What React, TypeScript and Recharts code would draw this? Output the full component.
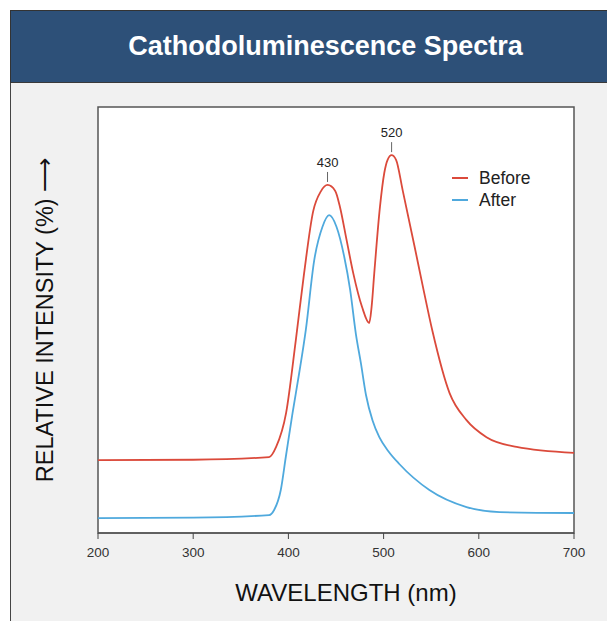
import React from "react";
import {
  LineChart,
  Line,
  XAxis,
  YAxis,
  CartesianGrid,
  ReferenceArea,
  ReferenceDot,
  Legend,
} from "recharts";

// wavelength (nm) / relative intensity (%)
const beforeWavelength = [
  200, 300, 379.7, 387.1, 397.6, 407.8, 416.5, 426.0, 434.1, 441.1, 449.2,
  454.1, 461.1, 468.1, 477.3, 484.9, 487.4, 490.2, 496.2, 500.7, 504.2, 508.4,
  513.1, 520.0, 532.3, 541.1, 551.3, 569.2, 587.1, 608.1, 639.7, 700,
];
const beforeIntensity = [
  17.1, 17.2, 17.8, 20.2, 28.2, 45.3, 61.0, 75.5, 80.2, 81.7, 80.3, 76.6,
  68.8, 61.0, 53.1, 49.3, 53.1, 61.0, 76.6, 84.5, 87.6, 88.7, 87.6, 80.5,
  67.5, 58.0, 47.4, 32.9, 26.5, 22.5, 20.2, 18.8,
];

const afterWavelength = [
  200, 300, 379.7, 385.0, 392.0, 397.3, 404.3, 411.3, 418.3, 427.1, 435.8,
  442.8, 450.5, 458.6, 464.9, 470.9, 476.2, 481.5, 488.4, 495.5, 505.0, 516.5,
  548.1, 587.1, 621.8, 700,
];
const afterIntensity = [
  3.5, 3.6, 4.2, 5.4, 10.1, 17.9, 28.1, 37.5, 47.7, 64.0, 71.9, 74.6, 71.9,
  64.9, 57.0, 46.7, 39.8, 32.4, 26.4, 22.5, 19.2, 16.2, 10.1, 6.1, 4.9, 4.7,
];

const xTicks = [200, 300, 400, 500, 600, 700];
const peakWavelength = [441.1, 508.4];
const peakLabels = ["430", "520"];

const RED = "#db4a3b";
const BLUE = "#4fa9dd";
const FONT = "'Liberation Sans', Arial, Helvetica, sans-serif";

const beforeData = beforeWavelength.map((w, i) => ({ w, v: beforeIntensity[i] }));
const afterData = afterWavelength.map((w, i) => ({ w, v: afterIntensity[i] }));

const peaks = peakWavelength.map((w, i) => ({
  w,
  v: beforeIntensity[beforeWavelength.indexOf(w)],
  label: peakLabels[i],
}));

const legendItems = [
  { name: "Before", color: RED },
  { name: "After", color: BLUE },
];

const renderLegend = () => (
  <div style={{ fontFamily: FONT, fontSize: 17.5, color: "#222" }}>
    {legendItems.map((it) => (
      <div
        key={it.name}
        style={{ display: "flex", alignItems: "center", height: 22 }}
      >
        <span
          style={{
            display: "inline-block",
            width: 16,
            height: 2,
            background: it.color,
            marginRight: 11,
          }}
        />
        {it.name}
      </div>
    ))}
  </div>
);

const YLabel = (props: any) => {
  const vb = props.viewBox;
  const cx = 45;
  const cy = vb.y + vb.height / 2;
  return (
    <text
      x={cx}
      y={cy}
      transform={`rotate(-90, ${cx}, ${cy})`}
      textAnchor="middle"
      dominantBaseline="central"
      fontFamily={FONT}
      fontSize={23.5}
      fill="#111"
    >
      RELATIVE INTENSITY (%) ⟶
    </text>
  );
};

const XLabel = (props: any) => {
  const vb = props.viewBox;
  return (
    <text
      x={vb.x + vb.width / 2 + 10}
      y={601}
      textAnchor="middle"
      fontFamily={FONT}
      fontSize={24}
      fill="#111"
    >
      WAVELENGTH (nm)
    </text>
  );
};

const PeakMark = (props: any) => {
  const { cx, cy, payload } = props;
  return (
    <g>
      <line x1={cx} y1={cy - 3} x2={cx} y2={cy - 13} stroke="#666" strokeWidth={1} />
      <text
        x={cx}
        y={cy - 18}
        textAnchor="middle"
        fontFamily={FONT}
        fontSize={13}
        fill="#222"
      >
        {payload}
      </text>
    </g>
  );
};

export default function App() {
  return (
    <div style={{ position: "relative", width: 607, height: 621, background: "#fff" }}>
      <style>{"body{margin:0}"}</style>
      <div
        style={{
          position: "absolute",
          left: 10,
          top: 83,
          width: 597,
          height: 538,
          background: "#f1f1f1",
          borderLeft: "1.5px solid #444",
          boxSizing: "border-box",
        }}
      />
      <div
        style={{
          position: "absolute",
          left: 10,
          top: 10,
          width: 597,
          height: 73,
          background: "#2d5078",
          borderTop: "1.5px solid #333",
          borderLeft: "1.5px solid #333",
          borderBottom: "1px solid #3a3a3a",
          boxSizing: "border-box",
          color: "#fff",
          fontFamily: FONT,
          fontWeight: "bold",
          fontSize: 27,
          display: "flex",
          alignItems: "center",
          justifyContent: "center",
          paddingLeft: 33,
          paddingBottom: 1,
        }}
      >
        Cathodoluminescence Spectra
      </div>
      <div style={{ position: "absolute", left: 0, top: 0 }}>
        <LineChart
          width={607}
          height={621}
          margin={{ top: 107, right: 33, bottom: 28, left: 10 }}
        >
          <CartesianGrid fill="#fff" horizontal={false} vertical={false} />
          <XAxis
            type="number"
            dataKey="w"
            domain={[200, 700]}
            ticks={xTicks}
            height={60}
            tickSize={6}
            tickMargin={8}
            stroke="#444"
            tick={{ fill: "#333", fontSize: 13.5, fontFamily: FONT }}
            label={<XLabel />}
          />
          <YAxis
            type="number"
            dataKey="v"
            domain={[0, 100]}
            width={88}
            tick={false}
            tickLine={false}
            axisLine={false}
            label={<YLabel />}
          />
          <ReferenceArea
            x1={200}
            x2={700}
            y1={0}
            y2={100}
            fill="none"
            stroke="#555"
            strokeWidth={1.5}
          />
          <Line
            data={beforeData}
            dataKey="v"
            name="Before"
            type="monotone"
            stroke={RED}
            strokeWidth={1.8}
            dot={false}
            isAnimationActive={false}
          />
          <Line
            data={afterData}
            dataKey="v"
            name="After"
            type="monotone"
            stroke={BLUE}
            strokeWidth={1.8}
            dot={false}
            isAnimationActive={false}
          />
          {peaks.map((p) => (
            <ReferenceDot
              key={p.label}
              x={p.w}
              y={p.v}
              r={0}
              shape={(props: any) => <PeakMark {...props} payload={p.label} />}
            />
          ))}
          <Legend
            layout="horizontal"
            verticalAlign="middle"
            align="center"
            content={renderLegend}
            wrapperStyle={{ top: 167, left: 452, width: 120 }}
          />
        </LineChart>
      </div>
    </div>
  );
}
